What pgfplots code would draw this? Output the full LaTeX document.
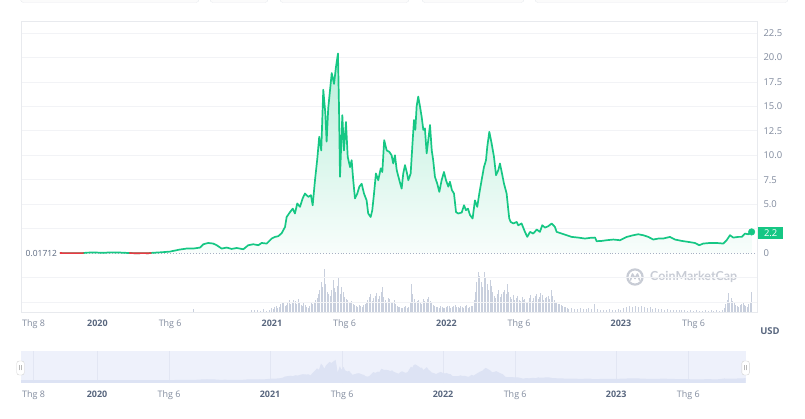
\documentclass[border=0pt]{standalone}
\usepackage{pgfplots}
\pgfplotsset{compat=1.18}
\usepackage{pgfplotstable}
\usepackage{fontspec}
\setmainfont{Open Sans}
\newfontfamily\wmfont{Lato}
\definecolor{cmcgreen}{RGB}{22,199,132}
\definecolor{cmcred}{RGB}{234,57,67}
\definecolor{ticklab}{RGB}{128,138,157}
\definecolor{yearlab}{RGB}{88,102,126}
\definecolor{gridc}{RGB}{242,243,246}
\definecolor{framec}{RGB}{232,234,238}
\definecolor{volc}{RGB}{200,207,221}
\definecolor{navbg}{RGB}{238,241,251}
\definecolor{navarea}{RGB}{221,227,244}
\definecolor{navgrid}{RGB}{226,230,243}
\definecolor{wm}{RGB}{200,204,213}
\definecolor{basec}{RGB}{166,176,195}

\pgfplotstableread{
m p
-2.58 0.017
-2.2 0.012
-1.8 0.014
-1.4 0.011
-1.0 0.015
-0.74 0.06
-0.3 0.08
0.40 0.05
1.0 0.09
1.55 0.07
2.1 0.03
2.5 0.010
2.7 0.008
3.1 0.012
3.5 0.009
3.84 0.05
4.4 0.10
4.99 0.17
5.21 0.24
5.67 0.38
6.13 0.48
6.59 0.48
7.05 0.58
7.28 0.92
7.62 1.05
7.96 0.99
8.20 0.82
8.54 0.48
8.89 0.58
9.23 0.44
9.57 0.54
10.03 0.41
10.37 0.82
10.72 0.92
11.06 0.82
11.29 1.05
11.64 0.99
11.98 1.5
12.21 1.67
12.43 1.74
12.67 2.05
12.90 2.69
13.01 3.7
13.24 4.2
13.43 4.56
13.58 4.06
13.74 5.08
13.93 4.74
14.11 5.6
14.27 6.1
14.50 5.76
14.68 5.93
14.80 4.9
14.96 7.46
15.12 9.68
15.25 11.9
15.39 10.5
15.53 16.7
15.67 14.3
15.76 11.4
15.87 14.8
16.11 18.4
16.27 17.3
16.40 19.0
16.54 20.4
16.61 15.0
16.68 7.8
16.84 14.1
16.95 10.5
17.09 13.4
17.21 9.85
17.37 8.8
17.48 9.5
17.59 7.46
17.71 5.6
17.87 6.1
18.01 6.8
18.17 7.1
18.33 6.1
18.51 5.4
18.62 4.06
18.79 3.7
18.90 4.4
19.02 6.1
19.15 8.15
19.31 7.46
19.48 8.66
19.59 8.3
19.72 11.55
19.89 10.5
20.07 10.36
20.23 10.0
20.34 9.17
20.46 10.0
20.58 8.5
20.76 7.46
20.92 6.6
21.03 8.15
21.15 9.0
21.27 8.3
21.38 7.46
21.54 8.15
21.68 11.55
21.77 13.6
21.86 12.6
21.95 15.0
22.06 16.0
22.18 15.0
22.30 13.9
22.41 12.6
22.52 12.75
22.64 10.2
22.75 11.55
22.87 13.1
22.99 10.5
23.09 9.5
23.21 7.8
23.37 7.1
23.51 6.27
23.67 7.46
23.83 8.3
23.97 7.46
24.13 6.8
24.24 7.3
24.38 6.44
24.52 6.1
24.66 4.2
24.81 4.06
25.05 4.16
25.21 4.9
25.34 4.4
25.48 4.56
25.62 3.9
25.80 3.55
25.96 5.4
26.12 4.74
26.26 6.1
26.42 7.46
26.58 8.8
26.72 9.5
26.81 10.9
26.95 12.4
27.11 11.2
27.27 9.85
27.41 7.97
27.57 8.5
27.68 9.17
27.80 8.3
27.96 7.1
28.14 6.1
28.25 4.5
28.32 3.55
28.42 3.2
28.60 3.04
28.83 3.2
28.94 2.86
29.17 3.04
29.40 2.18
29.56 1.67
29.75 2.18
29.97 2.01
30.21 2.42
30.43 2.18
30.59 2.86
30.78 2.62
31.00 2.76
31.24 3.04
31.46 2.69
31.58 2.18
31.93 2.01
32.27 1.84
32.61 1.67
33.07 1.6
33.53 1.5
33.87 1.57
34.22 1.6
34.33 1.23
34.68 1.26
35.02 1.33
35.48 1.4
35.94 1.33
36.40 1.67
36.85 1.84
37.19 1.94
37.54 1.84
37.88 1.67
38.23 1.4
38.57 1.5
38.91 1.5
39.37 1.67
39.72 1.4
40.18 1.26
40.63 1.16
41.09 1.05
41.39 0.82
41.66 0.99
42.12 1.05
42.59 1.05
43.04 0.99
43.27 1.33
43.50 1.84
43.73 1.6
44.07 1.67
44.31 1.67
44.53 2.01
44.76 1.94
44.99 2.18
}\pricetable

\pgfplotstableread{
m p
-2.58 0.01712
-2.2 0.012
-1.8 0.014
-1.4 0.011
-1.0 0.015
-0.95 0.01712
}\redone

\pgfplotstableread{
m p
2.2 0.01712
2.5 0.010
2.7 0.008
3.1 0.012
3.5 0.009
3.7 0.01712
}\redtwo

\pgfplotstableread{
m v
6.6 3
10.6 2
10.8 1.5
11.0 2
11.2 1
11.4 2.5
11.6 1
11.8 2
12.0 4
12.2 5
12.4 4
12.6 8
12.8 10
13.0 7
13.2 12
13.4 9
13.6 11
13.8 13
14.0 7
14.2 9
14.4 5
14.6 6
14.8 8
15.0 12
15.2 18
15.4 30
15.6 43
15.8 20
16.0 16
16.2 32
16.4 20
16.6 34
16.8 25
17.0 15
17.2 12
17.4 10
17.6 8
17.8 6
18.0 7
18.2 5
18.4 8
18.6 12
18.8 18
19.0 14
19.2 19
19.4 16
19.6 25
19.8 12
20.0 14
20.2 10
20.4 12
20.6 6
20.8 5
21.0 4
21.2 6
21.4 5
21.6 28
21.8 13
22.0 11
22.2 9
22.4 13
22.6 10
22.8 15
23.0 9
23.2 6
23.4 5
23.6 6
23.8 4
24.0 5
24.2 6
24.4 5
24.6 7
24.8 5
25.0 6
25.2 4
25.4 7
25.6 5
25.8 6
26.0 20
26.2 40
26.4 30
26.6 40
26.8 28
27.0 32
27.2 20
27.4 14
27.6 22
27.8 18
28.0 22
28.2 28
28.4 15
28.6 17
28.8 14
29.0 12
29.2 15
29.4 13
29.6 10
29.8 17
30.0 14
30.2 18
30.4 15
30.6 17
30.8 14
31.0 16
31.2 22
31.4 12
31.6 9
31.8 8
32.0 6
32.2 5
32.4 3
32.6 4
32.8 3
33.0 3
33.2 4
33.4 3
33.6 3
33.8 4
34.0 3
34.2 8
34.4 3
34.6 2
34.8 2
35.0 2
35.2 3
35.4 2
35.6 2
35.8 3
36.0 2
36.2 4
36.4 5
36.6 6
36.8 5
37.0 6
37.2 5
37.4 6
37.6 5
37.8 4
38.0 5
38.2 3
38.4 4
38.6 3
38.8 3
39.0 2
39.2 3
39.4 2
39.6 2
39.8 2
40.0 2
40.2 1.5
40.4 1.5
40.6 1
40.8 1.5
41.0 1
41.2 1.5
41.4 1
41.6 1
41.8 1.5
42.0 1
42.2 1.5
42.4 1
42.6 1.5
42.8 1
43.0 2
43.2 8
43.4 19
43.6 14
43.8 9
44.0 6
44.2 7
44.4 9
44.6 6
44.8 8
45.0 20
}\voltable

\pgfplotstableread{
m v
12.1 3
12.3 6
12.5 5
12.7 9
12.9 6
13.1 10
13.3 8
13.5 12
13.7 8
13.9 10
14.1 6
14.3 7
14.5 4
14.7 9
14.9 10
15.1 14
15.3 22
15.5 25
15.7 28
15.9 18
16.1 22
16.3 24
16.5 26
16.7 18
16.9 20
17.1 13
17.3 9
17.5 11
17.7 7
17.9 5
18.1 6
18.3 7
18.5 10
18.7 15
18.9 11
19.1 16
19.3 13
19.5 20
19.7 15
19.9 10
20.1 13
20.3 9
20.5 8
20.7 5
20.9 4
21.1 5
21.3 4
21.5 9
21.7 18
21.9 10
22.1 12
22.3 8
22.5 11
22.7 13
22.9 11
23.1 7
23.3 5
23.5 4
23.7 5
23.9 4
24.1 6
24.3 4
24.5 6
24.7 5
24.9 4
25.1 5
25.3 6
25.5 4
25.7 6
25.9 12
26.1 30
26.3 36
26.5 25
26.7 34
26.9 22
27.1 26
27.3 16
27.5 18
27.7 15
27.9 20
28.1 18
28.3 20
28.5 13
28.7 12
28.9 16
29.1 11
29.3 12
29.5 9
29.7 14
29.9 11
30.1 16
30.3 13
30.5 19
30.7 12
30.9 15
31.1 13
31.3 16
31.5 10
31.7 8
31.9 7
32.1 5
32.3 4
43.1 4
43.3 12
43.5 10
43.7 11
43.9 7
44.1 5
44.3 8
44.5 7
44.7 5
44.9 9
}\voltabletwo

\pgfplotsset{
  cmcx/.style={
    xtick={-4.4,0,5,12,17,24,29,36,41},
    xticklabels={Thg 8,{\bfseries\color{yearlab}2020},Thg 6,{\bfseries\color{yearlab}2021},Thg 6,{\bfseries\color{yearlab}2022},Thg 6,{\bfseries\color{yearlab}2023},Thg 6},
    xticklabel style={font=\fontsize{9}{10}\selectfont, text=ticklab, yshift=-4bp},
  }
}

\begin{document}
\begin{tikzpicture}
\useasboundingbox (0,0) rectangle (805bp,419bp);
% top buttons (cut off)
\foreach \a/\b in {20.5/199, 210/268, 280/409, 422/524, 535/788}{
  \draw[draw=framec, fill=gray!3, rounded corners=3bp] (\a bp,416.5bp) rectangle (\b bp,440bp);
}
% watermark
\draw[wm, line width=2.2bp] (635bp,142bp) circle (7.6bp);
\draw[wm, line width=1.6bp, line join=round, line cap=round] (630.5bp,139bp) -- (632.5bp,145bp) -- (635bp,140.5bp) -- (637.5bp,145bp) -- (639.5bp,139bp);
\node[anchor=west, inner sep=0pt, text=wm] at (650bp,142bp) {\resizebox{87bp}{!}{\wmfont\bfseries CoinMarketCap}};

% volume
\begin{axis}[at={(21bp,107bp)}, anchor=south west, scale only axis,
  width=736bp, height=291bp, xmin=-5.26, xmax=45.36, ymin=0, ymax=291,
  hide axis]
\addplot[ycomb, draw=volc, line width=1bp, no marks] table[x=m,y=v] {\voltable};
\addplot[ycomb, draw=volc, line width=1bp, no marks] table[x=m,y=v] {\voltabletwo};
\end{axis}

% main price axis
\begin{axis}[at={(21bp,107bp)}, anchor=south west, scale only axis,
  width=736bp, height=291bp, xmin=-5.26, xmax=45.36, ymin=-6, ymax=23.72,
  axis line style={draw=framec}, tick style={draw=none},
  clip mode=individual,
  cmcx,
  ytick={-5,-2.5,2.5,5,7.5,10,12.5,15,17.5,20,22.5},
  yticklabels={,,,5.0,7.5,10.0,12.5,15.0,17.5,20.0,22.5},
  extra y ticks={0}, extra y tick labels={0},
  extra y tick style={grid=none},
  yticklabel pos=right,
  yticklabel style={font=\fontsize{9.5}{10}\selectfont, text=ticklab, anchor=west, xshift=3bp},
  ymajorgrids, grid style={draw=gridc, line width=0.8bp},
  ]
\addplot[draw=none, top color=cmcgreen!30!white, bottom color=cmcgreen!3!white] table[x=m,y=p] {\pricetable} \closedcycle;
\addplot[basec, dotted, line width=0.9bp] coordinates {(-2.58,0.01712) (45.36,0.01712)};
\addplot[cmcgreen, line width=1.7bp, line join=round, no marks] table[x=m,y=p] {\pricetable};
\addplot[cmcred, line width=1.7bp, line join=round, no marks] table[x=m,y=p] {\redone};
\addplot[cmcred, line width=1.7bp, line join=round, no marks] table[x=m,y=p] {\redtwo};
\addplot[only marks, mark=*, mark size=3.3bp, mark options={fill=cmcgreen, draw=cmcgreen}] coordinates {(44.99,2.18)};
\node[anchor=east, inner sep=1bp, text=yearlab, font=\fontsize{8.5}{9}\selectfont] at (axis cs:-2.7,0.01712) {0.01712};
\node[anchor=west, fill=cmcgreen, text=white, inner sep=0pt, minimum width=25bp, minimum height=12.5bp, font=\fontsize{9.5}{10}\selectfont] at ([xshift=1bp,yshift=-1.3bp]axis cs:45.36,2.2) {2.2};
\end{axis}
\node[text=yearlab, font=\fontsize{9.5}{10}\selectfont\bfseries] at (770bp,88bp) {USD};

% navigator
\begin{axis}[at={(20.5bp,35.7bp)}, anchor=south west, scale only axis,
  width=725.1bp, height=32.7bp, xmin=-5.31, xmax=44.98, ymin=-3, ymax=29.7,
  axis background/.style={fill=navbg}, axis line style={draw=none}, tick style={draw=none},
  cmcx, ytick=\empty,
  xmajorgrids, grid style={draw=navgrid, line width=0.8bp},
  ]
\fill[navarea] (axis cs:-5.31,-3) rectangle (axis cs:44.98,0);
\addplot[draw=none, fill=navarea] table[x=m,y=p] {\pricetable} \closedcycle;
\end{axis}
\foreach \hx in {20.5, 745.6}{
  \draw[fill=white, draw=gray!35, rounded corners=2.5bp] (\hx bp-3.8bp,44bp) rectangle (\hx bp+3.8bp,58bp);
  \draw[gray!55, line width=0.5bp] (\hx bp-0.9bp,48.5bp) -- (\hx bp-0.9bp,53.5bp);
  \draw[gray!55, line width=0.5bp] (\hx bp+0.9bp,48.5bp) -- (\hx bp+0.9bp,53.5bp);
}
\end{tikzpicture}
\end{document}
